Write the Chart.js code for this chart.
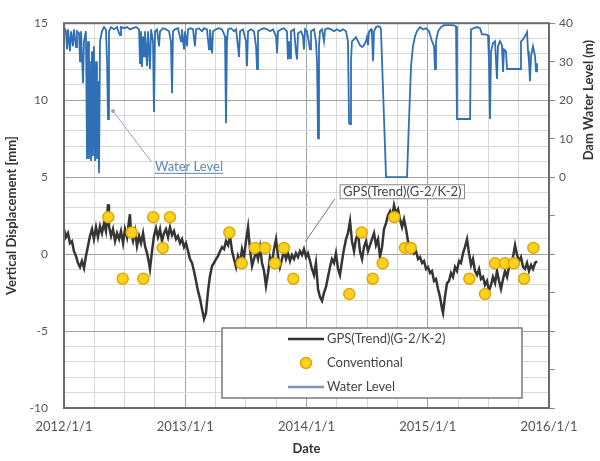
<!DOCTYPE html>
<html>
<head>
<meta charset="utf-8">
<script src="https://cdn.jsdelivr.net/npm/chart.js@4.4.1/dist/chart.umd.min.js"></script>
<style>
  html, body { margin: 0; padding: 0; background: #fff; }
</style>
</head>
<body>
<canvas id="myChart" width="600" height="461"></canvas>
<script>
// GPS trend, vertical displacement [mm] (decimal year, value)
const gpsYear = [
  2012.000, 2012.016, 2012.033, 2012.049, 2012.066, 2012.082, 2012.099, 2012.115, 2012.132, 2012.148,
  2012.165, 2012.181, 2012.198, 2012.214, 2012.231, 2012.247, 2012.264, 2012.280, 2012.297, 2012.313,
  2012.330, 2012.346, 2012.363, 2012.371, 2012.388, 2012.404, 2012.421, 2012.437, 2012.454, 2012.470,
  2012.487, 2012.503, 2012.520, 2012.536, 2012.544, 2012.553, 2012.569, 2012.586, 2012.602, 2012.619,
  2012.635, 2012.652, 2012.668, 2012.685, 2012.701, 2012.709, 2012.726, 2012.742, 2012.759, 2012.775,
  2012.792, 2012.808, 2012.825, 2012.841, 2012.858, 2012.874, 2012.891, 2012.907, 2012.924, 2012.940,
  2012.957, 2012.973, 2012.990, 2013.006, 2013.023, 2013.039, 2013.056, 2013.072, 2013.089, 2013.105,
  2013.122, 2013.138, 2013.155, 2013.171, 2013.188, 2013.204, 2013.221, 2013.237, 2013.254, 2013.270,
  2013.287, 2013.303, 2013.320, 2013.336, 2013.353, 2013.369, 2013.386, 2013.402, 2013.419, 2013.435,
  2013.452, 2013.468, 2013.485, 2013.501, 2013.518, 2013.534, 2013.551, 2013.567, 2013.584, 2013.600,
  2013.617, 2013.633, 2013.650, 2013.666, 2013.683, 2013.699, 2013.716, 2013.732, 2013.749, 2013.765,
  2013.781, 2013.798, 2013.814, 2013.831, 2013.847, 2013.864, 2013.880, 2013.897, 2013.913, 2013.930,
  2013.946, 2013.963, 2013.979, 2013.996, 2014.012, 2014.029, 2014.045, 2014.062, 2014.078, 2014.095,
  2014.111, 2014.128, 2014.144, 2014.161, 2014.177, 2014.194, 2014.210, 2014.227, 2014.243, 2014.260,
  2014.276, 2014.293, 2014.309, 2014.326, 2014.342, 2014.359, 2014.375, 2014.392, 2014.408, 2014.425,
  2014.441, 2014.458, 2014.474, 2014.491, 2014.507, 2014.524, 2014.540, 2014.557, 2014.573, 2014.590,
  2014.606, 2014.623, 2014.639, 2014.656, 2014.672, 2014.689, 2014.705, 2014.722, 2014.738, 2014.755,
  2014.771, 2014.788, 2014.804, 2014.821, 2014.837, 2014.854, 2014.870, 2014.887, 2014.903, 2014.920,
  2014.936, 2014.953, 2014.969, 2014.986, 2015.002, 2015.019, 2015.035, 2015.052, 2015.068, 2015.085,
  2015.101, 2015.118, 2015.126, 2015.142, 2015.159, 2015.175, 2015.192, 2015.208, 2015.225, 2015.241,
  2015.258, 2015.274, 2015.291, 2015.307, 2015.324, 2015.340, 2015.357, 2015.373, 2015.390, 2015.406,
  2015.423, 2015.439, 2015.456, 2015.472, 2015.489, 2015.505, 2015.522, 2015.538, 2015.555, 2015.571,
  2015.588, 2015.604, 2015.621, 2015.637, 2015.654, 2015.670, 2015.687, 2015.703, 2015.720, 2015.736,
  2015.753, 2015.769, 2015.786, 2015.802, 2015.819, 2015.835, 2015.852, 2015.868, 2015.885, 2015.901
];
const gpsMm = [
  1.62, 1.10, 1.36, 0.71, 0.84, 0.19, -0.13, -0.58, -0.84, -0.45,
  -0.91, -0.13, 0.52, 1.17, 1.62, 0.97, 1.75, 1.10, 1.81, 1.36,
  2.01, 1.49, 3.24, 1.81, 1.17, 1.62, 0.84, 1.36, 0.97, 1.49,
  0.71, 1.62, 1.10, 2.14, 2.59, 1.36, 0.84, 1.49, 0.52, 1.17,
  0.71, 1.36, 0.52, 0.06, -0.58, -0.97, 0.19, 1.17, 1.68, 1.10,
  1.62, 0.84, 1.36, 1.62, 1.10, 1.75, 1.23, 1.49, 0.97, 1.17,
  0.71, 0.97, 0.45, 0.71, 0.19, -0.32, -0.58, -1.10, -1.75, -2.39,
  -2.91, -3.56, -4.21, -3.82, -2.39, -1.42, -0.78, -0.58, -0.32, -0.13,
  0.19, 0.45, 0.32, 0.84, 0.58, 1.17, 0.19, -0.32, -0.84, -0.13,
  -0.58, 0.32, -0.19, 0.84, 1.75, 0.32, -0.78, -0.32, 0.19, -0.32,
  0.45, -0.58, -1.10, -2.07, -1.23, -0.19, -0.58, 0.32, 0.97, -0.13,
  -0.84, -0.32, 0.19, -0.32, 0.06, -0.45, -0.06, -0.32, 0.06, -0.19,
  0.19, -0.06, 0.32, -0.19, 0.06, -0.45, -0.97, -1.36, -0.58, -2.27,
  -2.78, -3.04, -2.52, -2.14, -1.49, -0.84, -0.32, -0.58, 0.06, -0.97,
  -1.36, -0.45, 0.32, 0.97, 1.36, 2.14, 0.84, 0.19, 0.97, 1.36,
  0.19, -0.32, 0.45, 0.84, 0.19, 0.58, 0.97, 1.36, 0.58, 0.97,
  -0.19, 0.45, 1.62, 2.01, 2.52, 2.78, 2.39, 3.17, 2.65, 2.91,
  2.27, 1.75, 2.27, 1.62, 0.84, 0.32, 0.58, 0.06, 0.19, -0.32,
  -0.19, -0.58, -0.45, -0.97, -0.84, -1.23, -1.10, -1.75, -1.62, -2.27,
  -2.78, -3.56, -3.82, -2.78, -1.88, -1.75, -1.23, -1.49, -0.84, -1.10,
  -0.45, -0.58, 0.06, 0.45, 0.97, 0.06, -0.71, -0.32, -1.10, -1.36,
  -0.97, -1.62, -1.49, -2.01, -1.75, -2.39, -2.01, -1.49, -1.88, -1.10,
  -1.75, -2.27, -1.62, -1.10, -1.49, -0.84, -0.58, -0.19, 0.58, -0.06,
  -0.45, -0.19, -0.84, -0.97, -0.58, -1.10, -0.71, -0.97, -0.58, -0.45
];

// conventional survey [mm]
const convYear = [
  2012.365, 2012.484, 2012.558, 2012.654, 2012.736, 2012.814, 2012.874,
  2013.363, 2013.466, 2013.575, 2013.658, 2013.740, 2013.814, 2013.891,
  2014.353, 2014.455, 2014.546, 2014.628, 2014.724, 2014.812, 2014.859,
  2015.343, 2015.472, 2015.555, 2015.637, 2015.711, 2015.794, 2015.871
];
const convMm = [
  2.4, -1.6, 1.4, -1.6, 2.4, 0.4, 2.4,
  1.4, -0.6, 0.4, 0.4, -0.6, 0.4, -1.6,
  -2.6, 1.4, -1.6, -0.6, 2.4, 0.4, 0.4,
  -1.6, -2.6, -0.6, -0.6, -0.6, -1.6, 0.4
];

// dam water level [m]
const waterYear = [
  2012.000, 2012.016, 2012.025, 2012.033, 2012.049, 2012.058, 2012.074, 2012.082, 2012.099, 2012.107,
  2012.124, 2012.132, 2012.140, 2012.157, 2012.165, 2012.181, 2012.190, 2012.198, 2012.206, 2012.214,
  2012.223, 2012.231, 2012.239, 2012.247, 2012.256, 2012.264, 2012.272, 2012.280, 2012.289, 2012.297,
  2012.313, 2012.330, 2012.346, 2012.355, 2012.363, 2012.371, 2012.388, 2012.412, 2012.437, 2012.454,
  2012.462, 2012.470, 2012.495, 2012.520, 2012.544, 2012.569, 2012.594, 2012.619, 2012.627, 2012.635,
  2012.643, 2012.652, 2012.660, 2012.668, 2012.685, 2012.693, 2012.709, 2012.718, 2012.734, 2012.742,
  2012.751, 2012.767, 2012.784, 2012.792, 2012.816, 2012.841, 2012.866, 2012.882, 2012.891, 2012.899,
  2012.915, 2012.940, 2012.965, 2012.973, 2012.990, 2012.998, 2013.014, 2013.023, 2013.047, 2013.064,
  2013.080, 2013.089, 2013.113, 2013.138, 2013.155, 2013.179, 2013.196, 2013.204, 2013.221, 2013.229,
  2013.254, 2013.278, 2013.303, 2013.328, 2013.336, 2013.344, 2013.353, 2013.377, 2013.402, 2013.419,
  2013.435, 2013.443, 2013.452, 2013.476, 2013.501, 2013.509, 2013.518, 2013.542, 2013.567, 2013.584,
  2013.592, 2013.600, 2013.625, 2013.650, 2013.674, 2013.699, 2013.724, 2013.749, 2013.757, 2013.765,
  2013.790, 2013.814, 2013.839, 2013.847, 2013.856, 2013.864, 2013.872, 2013.897, 2013.913, 2013.922,
  2013.930, 2013.955, 2013.971, 2013.979, 2013.988, 2014.004, 2014.029, 2014.037, 2014.062, 2014.078,
  2014.087, 2014.095, 2014.103, 2014.111, 2014.128, 2014.144, 2014.153, 2014.177, 2014.202, 2014.227,
  2014.252, 2014.276, 2014.301, 2014.326, 2014.342, 2014.351, 2014.359, 2014.367, 2014.375, 2014.392,
  2014.408, 2014.425, 2014.441, 2014.458, 2014.474, 2014.491, 2014.499, 2014.507, 2014.516, 2014.532,
  2014.540, 2014.549, 2014.557, 2014.573, 2014.590, 2014.606, 2014.614, 2014.656, 2014.829, 2014.845,
  2014.862, 2014.878, 2014.895, 2014.911, 2014.936, 2014.961, 2014.986, 2015.010, 2015.035, 2015.052,
  2015.060, 2015.068, 2015.085, 2015.109, 2015.134, 2015.159, 2015.184, 2015.208, 2015.233, 2015.241,
  2015.349, 2015.357, 2015.381, 2015.406, 2015.431, 2015.447, 2015.472, 2015.497, 2015.505, 2015.513,
  2015.522, 2015.538, 2015.555, 2015.563, 2015.571, 2015.579, 2015.596, 2015.612, 2015.621, 2015.629,
  2015.645, 2015.654, 2015.761, 2015.769, 2015.786, 2015.802, 2015.819, 2015.827, 2015.835, 2015.843,
  2015.852, 2015.868, 2015.885, 2015.893, 2015.901
];
const waterM = [
  39.0, 37.9, 33.2, 38.4, 32.7, 37.9, 34.0, 38.4, 33.8, 37.9,
  37.4, 30.1, 37.9, 24.4, 35.3, 37.9, 4.7, 35.3, 4.7, 30.1,
  4.2, 32.7, 5.5, 34.0, 4.2, 30.1, 4.7, 24.9, 1.0, 35.3,
  37.9, 39.0, 38.4, 30.1, 15.1, 37.9, 39.0, 38.4, 39.0, 37.4,
  36.9, 39.0, 38.7, 39.0, 38.4, 38.7, 39.0, 38.4, 29.6, 37.9,
  28.6, 36.6, 31.4, 37.9, 28.8, 37.9, 28.1, 38.4, 35.3, 16.9,
  37.9, 38.4, 34.0, 37.9, 38.7, 38.4, 37.9, 35.3, 21.8, 37.9,
  38.4, 38.7, 35.3, 38.4, 33.2, 37.9, 34.0, 38.4, 38.7, 38.4,
  34.0, 38.4, 38.7, 37.9, 38.7, 38.4, 33.2, 38.4, 32.2, 37.9,
  38.4, 38.7, 38.4, 36.6, 14.0, 35.3, 38.4, 38.7, 37.9, 38.4,
  34.0, 31.2, 37.9, 38.4, 35.3, 28.8, 37.9, 38.4, 37.9, 34.0,
  28.1, 37.9, 38.4, 38.7, 38.4, 37.9, 38.4, 36.6, 32.2, 37.9,
  38.4, 38.7, 37.9, 30.6, 35.3, 30.9, 37.9, 38.4, 32.7, 30.6,
  37.4, 37.9, 36.6, 33.2, 38.4, 37.9, 33.2, 37.9, 38.4, 35.3,
  30.1, 10.1, 34.0, 37.9, 38.4, 35.3, 38.4, 38.7, 38.4, 37.9,
  38.4, 37.9, 38.4, 37.9, 35.3, 14.0, 13.8, 30.1, 35.3, 35.8,
  36.4, 35.3, 34.3, 33.8, 34.3, 35.3, 36.4, 34.3, 37.9, 38.4,
  36.9, 30.1, 37.9, 39.0, 39.2, 39.0, 38.4, 0.0, 0.0, 14.5,
  28.8, 34.0, 36.6, 37.9, 39.0, 38.4, 38.7, 37.9, 35.3, 34.0,
  28.1, 35.3, 37.9, 39.0, 39.5, 39.5, 39.5, 39.5, 39.2, 15.1,
  15.1, 38.4, 38.7, 39.0, 38.7, 37.1, 37.1, 36.9, 30.1, 15.1,
  32.7, 34.8, 35.3, 30.1, 25.5, 34.0, 35.3, 34.3, 27.3, 33.2,
  32.7, 28.1, 28.1, 35.3, 35.8, 36.6, 37.7, 32.7, 30.1, 24.9,
  31.4, 34.0, 31.4, 27.5, 29.6
];

// axis ticks
const yearTicks = [2012, 2013, 2014, 2015, 2016];
const dispTicks = [-10, -5, 0, 5, 10, 15];
const levelTicks = [0, 10, 20, 30, 40];

const toXY = (xs, ys) => xs.map((v, i) => ({ x: v, y: ys[i] }));

Chart.defaults.font.family = "Lato, 'Open Sans', sans-serif";

const decor = {
  id: 'decor',
  afterDraw(chart) {
    const { ctx, chartArea: a } = chart;
    const { x, y, y2 } = chart.scales;
    ctx.save();

    // plot frame
    ctx.strokeStyle = '#6b6b6b';
    ctx.lineWidth = 2;
    ctx.strokeRect(a.left, a.top, a.right - a.left, a.bottom - a.top);

    // right title, centred on the labelled part of the axis
    const midY = (y2.getPixelForValue(0) + y2.getPixelForValue(40)) / 2;
    ctx.save();
    ctx.translate(chart.width - 11, midY);
    ctx.rotate(-Math.PI / 2);
    ctx.font = "bold 13px Lato, 'Open Sans', sans-serif";
    ctx.fillStyle = '#333';
    ctx.textAlign = 'center';
    ctx.textBaseline = 'middle';
    ctx.fillText('Dam Water Level (m)', 0, 0);
    ctx.restore();

    // "Water Level" callout
    const wx0 = x.getPixelForValue(2012.404), wy0 = y.getPixelForValue(9.3);
    const wx1 = x.getPixelForValue(2012.72), wy1 = y.getPixelForValue(6.0);
    ctx.strokeStyle = '#8fa9c9';
    ctx.lineWidth = 1;
    ctx.beginPath();
    ctx.moveTo(wx0, wy0);
    ctx.lineTo(wx1, wy1);
    ctx.stroke();
    ctx.fillStyle = '#8fa9c9';
    ctx.beginPath();
    ctx.arc(wx0, wy0, 2, 0, Math.PI * 2);
    ctx.fill();
    ctx.font = "13px Lato, 'Open Sans', sans-serif";
    ctx.fillStyle = '#5a86bb';
    ctx.textAlign = 'left';
    ctx.textBaseline = 'middle';
    const wtx = x.getPixelForValue(2012.75), wty = y.getPixelForValue(5.7);
    ctx.fillText('Water Level', wtx, wty);
    const ww = ctx.measureText('Water Level').width;
    ctx.strokeStyle = '#5a86bb';
    ctx.beginPath();
    ctx.moveTo(wtx, wty + 7);
    ctx.lineTo(wtx + ww, wty + 7);
    ctx.stroke();

    // "GPS(Trend)(G-2/K-2)" callout
    const gLabel = 'GPS(Trend)(G-2/K-2)';
    const gcx = x.getPixelForValue(2014.79), gcy = y.getPixelForValue(4.05);
    const gw = ctx.measureText(gLabel).width + 6;
    ctx.strokeStyle = '#777';
    ctx.beginPath();
    ctx.moveTo(x.getPixelForValue(2014.235), gcy + 7);
    ctx.lineTo(x.getPixelForValue(2013.99), y.getPixelForValue(0.8));
    ctx.stroke();
    ctx.fillStyle = '#fff';
    ctx.fillRect(gcx - gw / 2, gcy - 7, gw, 14);
    ctx.strokeStyle = '#8a8a8a';
    ctx.strokeRect(gcx - gw / 2, gcy - 7, gw, 14);
    ctx.fillStyle = '#444';
    ctx.textAlign = 'center';
    ctx.fillText(gLabel, gcx, gcy);

    // legend box
    const lx = 222, ly = 328, lw = 300, lh = 70;
    ctx.fillStyle = '#fff';
    ctx.fillRect(lx, ly, lw, lh);
    ctx.strokeStyle = '#7a7a7a';
    ctx.lineWidth = 1.5;
    ctx.strokeRect(lx, ly, lw, lh);
    ctx.textAlign = 'left';
    ctx.fillStyle = '#444';
    ctx.font = "13px Lato, 'Open Sans', sans-serif";
    const sx0 = 288, sx1 = 324, tx = 327;
    // GPS entry
    ctx.strokeStyle = '#333';
    ctx.lineWidth = 2.5;
    ctx.beginPath(); ctx.moveTo(sx0, 339); ctx.lineTo(sx1, 339); ctx.stroke();
    ctx.fillText('GPS(Trend)(G-2/K-2)', tx, 339);
    // conventional entry
    ctx.fillStyle = '#ffd21f';
    ctx.strokeStyle = '#e0a800';
    ctx.lineWidth = 1.5;
    ctx.beginPath(); ctx.arc((sx0 + sx1) / 2, 363, 5.5, 0, Math.PI * 2); ctx.fill(); ctx.stroke();
    ctx.fillStyle = '#444';
    ctx.fillText('Conventional', tx, 363);
    // water level entry
    ctx.strokeStyle = '#7d97b8';
    ctx.lineWidth = 2.5;
    ctx.beginPath(); ctx.moveTo(sx0, 387); ctx.lineTo(sx1, 387); ctx.stroke();
    ctx.fillText('Water Level', tx, 387);

    ctx.restore();
  }
};

const ctx = document.getElementById('myChart').getContext('2d');

const myChart = new Chart(ctx, {
  type: 'line',
  data: {
    datasets: [
      {
        label: 'Conventional',
        data: toXY(convYear, convMm),
        yAxisID: 'y',
        showLine: false,
        pointRadius: 5.5,
        pointBackgroundColor: '#ffd21f',
        pointBorderColor: '#e0a800',
        pointBorderWidth: 1.5
      },
      {
        label: 'GPS(Trend)(G-2/K-2)',
        data: toXY(gpsYear, gpsMm),
        yAxisID: 'y',
        borderColor: '#353535',
        borderWidth: 2.5,
        pointRadius: 0,
        tension: 0
      },
      {
        label: 'Water Level',
        data: toXY(waterYear, waterM),
        yAxisID: 'y2',
        borderColor: '#2f6fb6',
        borderWidth: 1.8,
        pointRadius: 0,
        tension: 0
      }
    ]
  },
  options: {
    responsive: false,
    animation: false,
    layout: { padding: { top: 22, left: 0, right: 0, bottom: 0 } },
    plugins: {
      legend: { display: false },
      tooltip: { enabled: false }
    },
    scales: {
      x: {
        type: 'linear',
        min: yearTicks[0],
        max: yearTicks[yearTicks.length - 1],
        afterFit: s => { s.height = 53; },
        ticks: {
          stepSize: 0.25,
          autoSkip: false,
          maxRotation: 0,
          padding: 11,
          color: '#555',
          font: { size: 13 },
          callback: v => yearTicks.includes(v) ? v + '/1/1' : ''
        },
        grid: {
          drawTicks: false,
          color: c => yearTicks.includes(c.tick.value) ? '#a3a3a3' : '#d9d9d9'
        },
        border: { display: false },
        title: {
          display: true,
          text: 'Date',
          color: '#333',
          font: { size: 13, weight: 'bold' },
          padding: { top: 0, bottom: 4 }
        }
      },
      y: {
        position: 'left',
        min: dispTicks[0],
        max: dispTicks[dispTicks.length - 1],
        afterFit: s => { s.width = 64; },
        ticks: {
          stepSize: 1,
          autoSkip: false,
          padding: 16,
          color: '#555',
          font: { size: 12 },
          callback: v => dispTicks.includes(v) ? v : ''
        },
        grid: {
          drawTicks: false,
          color: c => dispTicks.includes(c.tick.value) ? '#a3a3a3' : '#d9d9d9'
        },
        border: { display: false },
        title: {
          display: true,
          text: 'Vertical Displacement [mm]',
          color: '#333',
          font: { size: 13, weight: 'bold' },
          padding: { top: 4, bottom: 0 }
        }
      },
      y2: {
        position: 'right',
        min: -60,
        max: 40,
        afterFit: s => { s.width = 51; },
        ticks: {
          stepSize: 10,
          autoSkip: false,
          padding: 4,
          color: '#555',
          font: { size: 12 },
          callback: v => levelTicks.includes(v) ? v : ''
        },
        grid: {
          drawOnChartArea: false,
          tickLength: 6,
          color: '#8a8a8a'
        },
        border: { display: false }
      }
    }
  },
  plugins: [decor]
});
</script>
</body>
</html>
